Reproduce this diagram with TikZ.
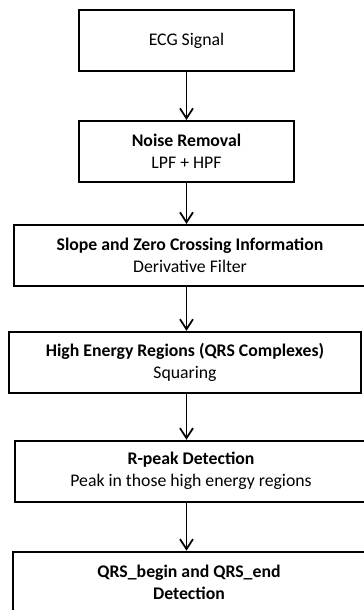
\documentclass[tikz,border=0pt]{standalone}
\usepackage{fontspec}
\setmainfont{Carlito}
\usepackage{tikz}
\usetikzlibrary{arrows.meta,positioning}

\newcommand{\boxfont}{\fontsize{10.1}{12.5}\selectfont}

\begin{document}
\begin{tikzpicture}[
			node distance=0.9cm,
			box/.style={rectangle, draw=black, line width=1.1pt, minimum width=4.3cm,
				minimum height=1.22cm, align=center, font=\boxfont},
			wide/.style={box, minimum width=7.04cm},
			arrow/.style={-{Straight Barb[length=2mm, width=2.6mm]}, line width=1pt}
			]
			\useasboundingbox (0,0) rectangle (7.26,-12.2);
			\node[box] (ecg) at (3.73,-0.81) {ECG Signal};
			\node[box, below=0.96cm of ecg] (noise) {\textbf{Noise Removal}\\ LPF + HPF};
			\node[wide, below=0.82cm of noise, xshift=0.07cm] (slope) {\textbf{Slope and Zero Crossing Information}\\ Derivative Filter};
			\node[wide, below=0.88cm of slope, xshift=-0.1cm] (energy) {\textbf{High Energy Regions (QRS Complexes)}\\ Squaring};
			\node[wide, below=0.92cm of energy, xshift=0.12cm] (rpeak) {\textbf{R-peak Detection}\\ Peak in those high energy regions};
			\node[wide, below=0.96cm of rpeak, xshift=-0.04cm] (qrs) {\textbf{QRS\_begin and QRS\_end}\\ \textbf{Detection}};
			\draw[arrow] (ecg.south) -- (ecg.south |- noise.north);
			\draw[arrow] (noise.south) -- (noise.south |- slope.north);
			\draw[arrow] (slope.south -| noise.south) -- (noise.south |- energy.north);
			\draw[arrow] (energy.south -| noise.south) -- (noise.south |- rpeak.north);
			\draw[arrow] (rpeak.south -| noise.south) -- (noise.south |- qrs.north);
		\end{tikzpicture}
\end{document}
